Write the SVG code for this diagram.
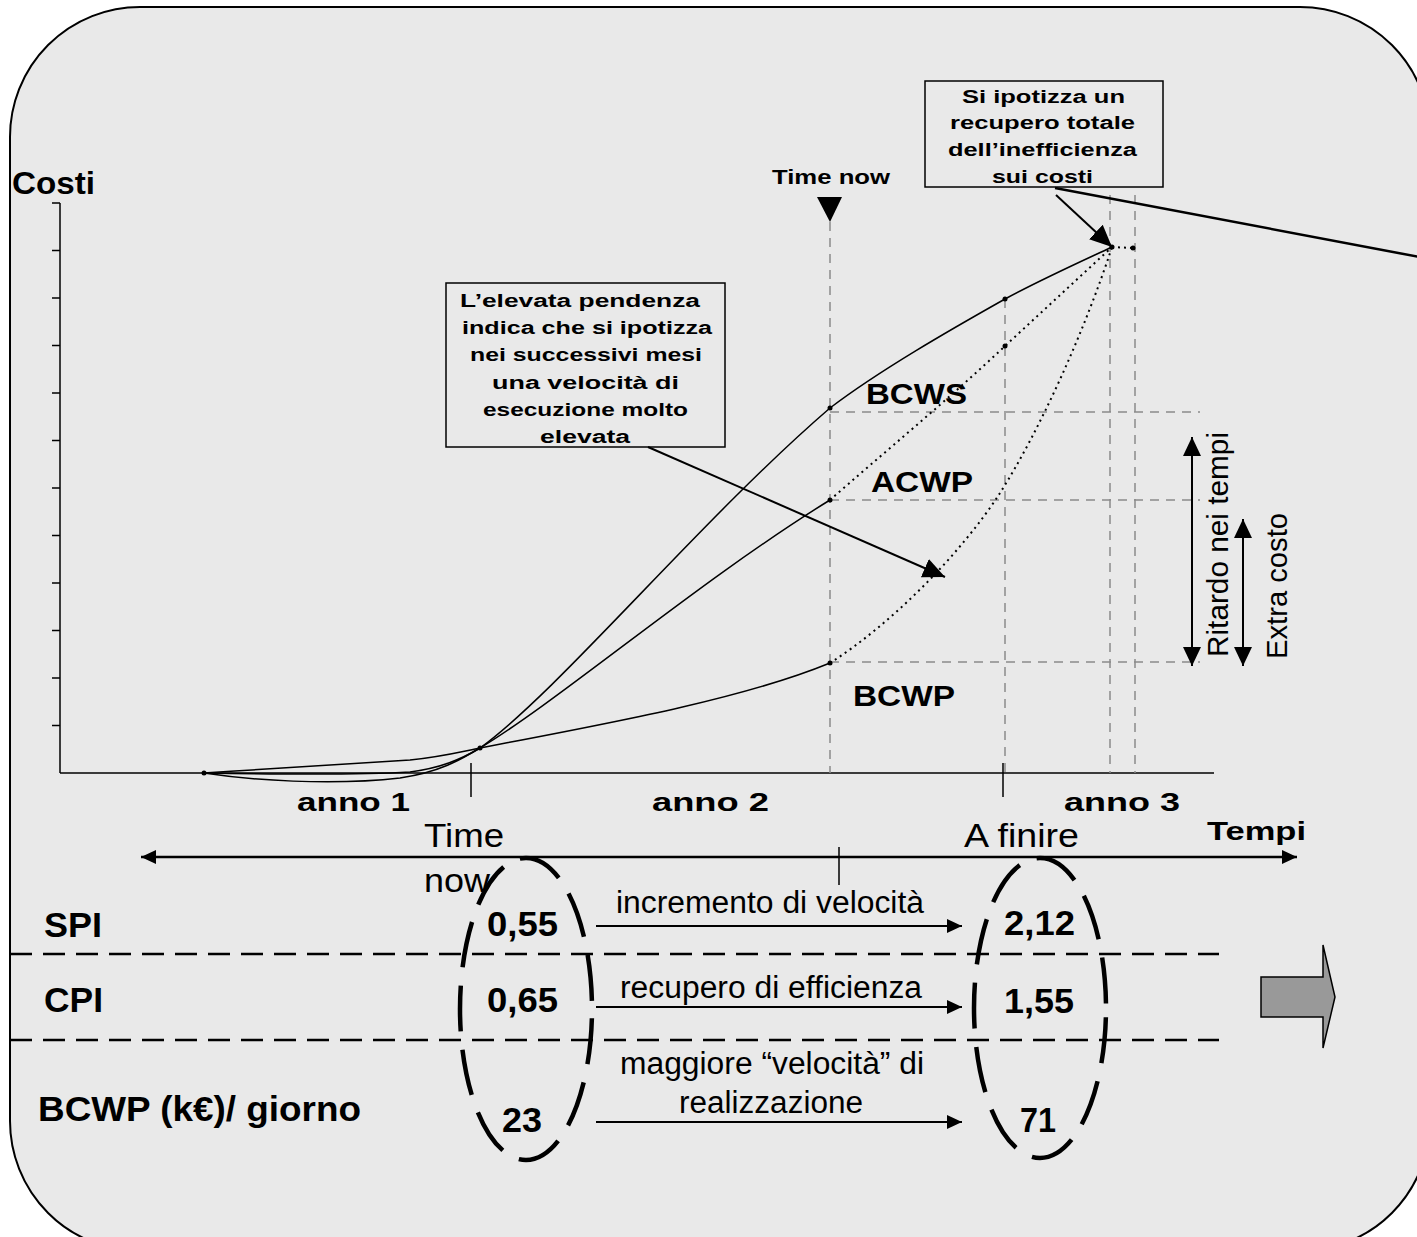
<svg xmlns="http://www.w3.org/2000/svg" width="1417" height="1237" viewBox="0 0 1417 1237">
  <defs>
    <style>
      text { font-family: "Liberation Sans", Arial, sans-serif; fill: #000; }
      .b { font-weight: bold; }
      .ax { stroke: #000; stroke-width: 1.5; fill: none; }
      .grid { stroke: #8a8a8a; stroke-width: 1.5; stroke-dasharray: 9 7; fill: none; }
      .solid { stroke: #000; stroke-width: 1.5; fill: none; }
      .dotted { stroke: #000; stroke-width: 2; stroke-dasharray: 2 4; fill: none; }
      .pt { fill: #000; }
      .row { stroke: #000; stroke-width: 2.5; stroke-dasharray: 22 11; }
      .oval { fill: none; stroke: #000; stroke-width: 4.5; stroke-dasharray: 46 18.4; stroke-dashoffset: 55; }
      .box { fill: #e9e9e9; stroke: #000; stroke-width: 1.5; }
      .arr { stroke: #000; stroke-width: 2; fill: none; }
    </style>
    <marker id="tip" markerUnits="userSpaceOnUse" viewBox="0 0 15 14" markerWidth="15" markerHeight="14" refX="15" refY="7" orient="auto-start-reverse">
      <path d="M0,0 L15,7 L0,14 z" fill="#000"/>
    </marker>
    <marker id="bigtip" markerUnits="userSpaceOnUse" viewBox="0 0 22 20" markerWidth="22" markerHeight="20" refX="22" refY="10" orient="auto">
      <path d="M0,0 L22,10 L0,20 z" fill="#000"/>
    </marker>
    <marker id="dtip" markerUnits="userSpaceOnUse" viewBox="0 0 19 18" markerWidth="19" markerHeight="18" refX="19" refY="9" orient="auto-start-reverse">
      <path d="M0,0 L19,9 L0,18 z" fill="#000"/>
    </marker>
  </defs>

  <!-- page and rounded panel -->
  <rect x="0" y="0" width="1417" height="1237" fill="#ffffff"/>
  <rect id="panel" x="10" y="7" width="1420" height="1244" rx="130" ry="130" fill="#e9e9e9" stroke="#000" stroke-width="2"/>

  <!-- cost axis -->
  <g id="axes">
    <text class="b" x="12" y="194" font-size="31" textLength="83" lengthAdjust="spacingAndGlyphs">Costi</text>
    <line class="ax" x1="60" y1="203" x2="60" y2="773"/>
    <line class="ax" x1="60" y1="773" x2="1214" y2="773"/>
    <path class="ax" d="M52,203H60M52,250.5H60M52,298H60M52,345.5H60M52,393H60M52,440.5H60M52,488H60M52,535.5H60M52,583H60M52,630.5H60M52,678H60M52,725.5H60"/>
    <line class="ax" x1="471" y1="763" x2="471" y2="797"/>
    <line class="ax" x1="1003" y1="763" x2="1003" y2="797"/>
    <text class="b" x="297" y="811" font-size="25" textLength="113" lengthAdjust="spacingAndGlyphs">anno 1</text>
    <text class="b" x="652" y="811" font-size="25" textLength="117" lengthAdjust="spacingAndGlyphs">anno 2</text>
    <text class="b" x="1064" y="811" font-size="25" textLength="116" lengthAdjust="spacingAndGlyphs">anno 3</text>
  </g>

  <!-- reference grid -->
  <g id="grid">
    <line class="grid" x1="830" y1="222" x2="830" y2="773"/>
    <line class="grid" x1="1005" y1="299" x2="1005" y2="773"/>
    <line class="grid" x1="1110" y1="195" x2="1110" y2="773"/>
    <line class="grid" x1="1135" y1="195" x2="1135" y2="773"/>
    <line class="grid" x1="830" y1="412" x2="1200" y2="412"/>
    <line class="grid" x1="830" y1="500" x2="1200" y2="500"/>
    <line class="grid" x1="830" y1="662" x2="1200" y2="662"/>
  </g>

  <!-- time now marker -->
  <g id="time-now">
    <text class="b" x="772" y="184" font-size="20" textLength="118" lengthAdjust="spacingAndGlyphs">Time now</text>
    <polygon points="817,197 842,197 830,222" fill="#000"/>
  </g>

  <!-- cumulative curves -->
  <g id="curve-bcws">
    <path class="solid" d="M204,773 C250,780 330,786 400,778 C440,772 460,760 480,748 C560,690 700,520 830,408 C880,370 950,330 1005,299 C1040,280 1080,262 1112,247"/>
    <text class="b" x="866" y="404" font-size="29" textLength="101" lengthAdjust="spacingAndGlyphs">BCWS</text>
  </g>
  <g id="curve-acwp">
    <path class="solid" d="M204,773 C260,774 360,775 410,772 C440,768 460,760 480,748 C560,700 700,580 830,500"/>
    <path class="dotted" d="M830,500 C880,456 950,398 1005,346 L1112,247"/>
    <text class="b" x="871" y="492" font-size="29" textLength="102" lengthAdjust="spacingAndGlyphs">ACWP</text>
  </g>
  <g id="curve-bcwp">
    <path class="solid" d="M204,773 C280,768 360,763 410,760 C440,757 460,752 480,748 C600,725 740,700 830,663"/>
    <path class="dotted" d="M830,663 C890,625 960,555 1000,493 C1040,430 1085,330 1112,247"/>
    <text class="b" x="853" y="706" font-size="29" textLength="102" lengthAdjust="spacingAndGlyphs">BCWP</text>
  </g>
  <path class="dotted" d="M1112,247 L1133,248"/>
  <g id="points">
    <circle class="pt" cx="204" cy="773" r="2.5"/>
    <circle class="pt" cx="480" cy="748" r="2.5"/>
    <circle class="pt" cx="830" cy="408" r="2.5"/>
    <circle class="pt" cx="830" cy="500" r="2.5"/>
    <circle class="pt" cx="830" cy="663" r="2.5"/>
    <circle class="pt" cx="1005" cy="299" r="2.5"/>
    <circle class="pt" cx="1005" cy="346" r="2.5"/>
    <circle class="pt" cx="1112" cy="247" r="2.5"/>
    <circle class="pt" cx="1133" cy="248" r="2.5"/>
  </g>

  <!-- callout: slope -->
  <g id="note-slope">
    <rect class="box" x="446" y="283" width="279" height="164"/>
    <g class="b" font-size="18">
      <text x="460" y="307" textLength="240" lengthAdjust="spacingAndGlyphs">L’elevata pendenza</text>
      <text x="462" y="334" textLength="250" lengthAdjust="spacingAndGlyphs">indica che si ipotizza</text>
      <text x="470" y="361" textLength="232" lengthAdjust="spacingAndGlyphs">nei successivi mesi</text>
      <text x="492" y="389" textLength="187" lengthAdjust="spacingAndGlyphs">una velocità di</text>
      <text x="483" y="416" textLength="205" lengthAdjust="spacingAndGlyphs">esecuzione molto</text>
      <text x="540" y="443" textLength="90" lengthAdjust="spacingAndGlyphs">elevata</text>
    </g>
  </g>

  <!-- callout: cost recovery -->
  <g id="note-recovery">
    <rect class="box" x="925" y="81" width="238" height="106"/>
    <g class="b" font-size="18">
      <text x="962" y="103" textLength="163" lengthAdjust="spacingAndGlyphs">Si ipotizza un</text>
      <text x="950" y="129" textLength="185" lengthAdjust="spacingAndGlyphs">recupero totale</text>
      <text x="948" y="156" textLength="189" lengthAdjust="spacingAndGlyphs">dell’inefficienza</text>
      <text x="992" y="183" textLength="101" lengthAdjust="spacingAndGlyphs">sui costi</text>
    </g>
  </g>

  <!-- variance spans -->
  <g id="span-delay">
    <line class="arr" x1="1192" y1="437" x2="1192" y2="666" marker-start="url(#dtip)" marker-end="url(#dtip)"/>
    <text transform="translate(1228,657) rotate(-90)" font-size="29" textLength="225" lengthAdjust="spacingAndGlyphs">Ritardo nei tempi</text>
  </g>
  <g id="span-cost">
    <line class="arr" x1="1243" y1="519" x2="1243" y2="666" marker-start="url(#dtip)" marker-end="url(#dtip)"/>
    <text transform="translate(1287,659) rotate(-90)" font-size="29" textLength="146" lengthAdjust="spacingAndGlyphs">Extra costo</text>
  </g>

  <!-- time line -->
  <g id="timeline">
    <line x1="141" y1="857" x2="1297" y2="857" stroke="#000" stroke-width="2.5" marker-start="url(#tip)" marker-end="url(#tip)"/>
    <line class="ax" x1="839" y1="847" x2="839" y2="885" stroke-width="2"/>
    <text x="424" y="847" font-size="33" textLength="80" lengthAdjust="spacingAndGlyphs">Time</text>
    <text x="424" y="892" font-size="33" textLength="66" lengthAdjust="spacingAndGlyphs">now</text>
    <text x="964" y="847" font-size="33" textLength="115" lengthAdjust="spacingAndGlyphs">A finire</text>
    <text class="b" x="1207" y="840" font-size="26" textLength="99" lengthAdjust="spacingAndGlyphs">Tempi</text>
  </g>

  <!-- index table -->
  <g id="table">
    <line class="row" x1="10" y1="954" x2="1219" y2="954"/>
    <line class="row" x1="10" y1="1040" x2="1219" y2="1040"/>
    <g class="b" font-size="35">
      <text x="44" y="937" textLength="58" lengthAdjust="spacingAndGlyphs">SPI</text>
      <text x="44" y="1012" textLength="59" lengthAdjust="spacingAndGlyphs">CPI</text>
      <text x="38" y="1121" textLength="323" lengthAdjust="spacingAndGlyphs">BCWP (k€)/ giorno</text>
    </g>
  </g>
  <g id="now-values">
    <ellipse class="oval" cx="526" cy="1009" rx="66" ry="151"/>
    <g class="b" font-size="35">
      <text x="487" y="936" textLength="71" lengthAdjust="spacingAndGlyphs">0,55</text>
      <text x="487" y="1012" textLength="71" lengthAdjust="spacingAndGlyphs">0,65</text>
      <text x="502" y="1132" textLength="40" lengthAdjust="spacingAndGlyphs">23</text>
    </g>
  </g>
  <g id="end-values">
    <ellipse class="oval" cx="1040" cy="1008" rx="66" ry="150"/>
    <g class="b" font-size="35">
      <text x="1004" y="935" textLength="71" lengthAdjust="spacingAndGlyphs">2,12</text>
      <text x="1004" y="1013" textLength="70" lengthAdjust="spacingAndGlyphs">1,55</text>
      <text x="1020" y="1132" textLength="36" lengthAdjust="spacingAndGlyphs">71</text>
    </g>
  </g>
  <g id="transitions" font-size="31">
    <text x="616" y="913" textLength="308" lengthAdjust="spacingAndGlyphs">incremento di velocità</text>
    <text x="620" y="998" textLength="302" lengthAdjust="spacingAndGlyphs">recupero di efficienza</text>
    <text x="620" y="1074" textLength="304" lengthAdjust="spacingAndGlyphs">maggiore “velocità” di</text>
    <text x="679" y="1113" textLength="184" lengthAdjust="spacingAndGlyphs">realizzazione</text>
  </g>

  <!-- next-step block arrow -->
  <polygon id="next" points="1261,977 1323,977 1323,945 1335,997 1323,1048 1323,1017 1261,1017" fill="#999999" stroke="#000" stroke-width="1.5"/>

  <!-- connectors -->
  <g id="connectors">
    <line class="arr" x1="648" y1="447" x2="945" y2="577" marker-end="url(#bigtip)"/>
    <line class="arr" x1="1056" y1="195" x2="1112" y2="247" marker-end="url(#bigtip)"/>
    <line x1="1055" y1="188" x2="1430" y2="259" stroke="#000" stroke-width="2.5"/>
    <line class="arr" x1="596" y1="926" x2="962" y2="926" marker-end="url(#tip)"/>
    <line class="arr" x1="596" y1="1007" x2="962" y2="1007" marker-end="url(#tip)"/>
    <line class="arr" x1="596" y1="1122" x2="962" y2="1122" marker-end="url(#tip)"/>
  </g>
</svg>
